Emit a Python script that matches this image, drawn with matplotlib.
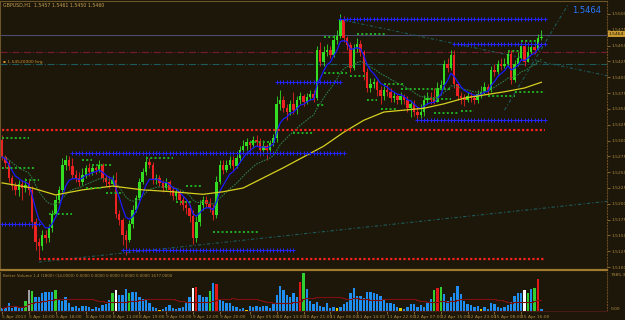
import numpy as np
import pandas as pd
import matplotlib
matplotlib.use("Agg")
import matplotlib.pyplot as plt

# ==========================================================
# Data (prices stored as pips above 1.5100)
# ==========================================================

BASE = 1.5100
PIP = 0.0001

open_first = 201

close_pips = [
    174, 164, 141, 128, 122, 131, 125, 130, 122, 71,
    40, 33, 51, 46, 62, 84, 106, 122, 161, 169,
    160, 146, 141, 134, 146, 157, 150, 157, 153, 161,
    141, 134, 131, 138, 84, 74, 51, 43, 68, 90,
    109, 134, 150, 166, 161, 138, 141, 133, 125, 134,
    122, 112, 119, 106, 98, 93, 81, 46, 71, 98,
    106, 100, 93, 82, 134, 161, 153, 161, 169, 160,
    172, 185, 191, 198, 193, 201, 198, 185, 191, 185,
    196, 204, 258, 264, 251, 245, 258, 248, 264, 270,
    261, 269, 273, 267, 343, 324, 340, 343, 335, 359,
    365, 390, 362, 351, 315, 346, 352, 340, 308, 283,
    289, 292, 280, 270, 280, 277, 267, 270, 264, 270,
    264, 251, 258, 245, 240, 245, 264, 267, 264, 261,
    283, 288, 321, 315, 335, 289, 270, 267, 264, 270,
    267, 264, 273, 277, 285, 280, 311, 308, 321, 318,
    321, 337, 296, 321, 330, 349, 324, 340, 348, 343,
    362, 364,
]

high_pips = [
    209, 177, 169, 146, 134, 138, 138, 141, 138, 128,
    78, 46, 59, 59, 68, 90, 114, 128, 172, 177,
    176, 172, 153, 150, 157, 161, 164, 163, 160, 169,
    164, 146, 144, 146, 150, 90, 78, 59, 74, 98,
    114, 141, 157, 176, 172, 166, 147, 146, 138, 141,
    138, 128, 125, 122, 112, 106, 100, 90, 81, 106,
    112, 112, 109, 100, 144, 169, 169, 169, 176, 176,
    182, 191, 201, 204, 201, 207, 209, 204, 201, 194,
    201, 210, 270, 280, 270, 258, 264, 277, 270, 277,
    273, 275, 280, 280, 349, 356, 349, 352, 349, 367,
    375, 400, 397, 365, 356, 352, 362, 359, 343, 315,
    299, 299, 296, 286, 286, 289, 283, 277, 273, 277,
    273, 270, 264, 264, 255, 258, 272, 277, 277, 283,
    292, 296, 327, 330, 343, 343, 292, 277, 273, 277,
    277, 273, 280, 286, 292, 289, 318, 321, 327, 330,
    330, 343, 343, 327, 340, 356, 359, 349, 356, 352,
    368, 375,
]

low_pips = [
    169, 157, 134, 122, 114, 112, 106, 119, 114, 62,
    27, 14, 27, 38, 40, 55, 81, 101, 119, 153,
    153, 141, 134, 128, 130, 141, 144, 146, 147, 150,
    134, 128, 125, 128, 78, 66, 35, 19, 40, 62,
    87, 106, 131, 146, 157, 131, 131, 128, 119, 122,
    114, 106, 106, 98, 90, 84, 71, 37, 40, 65,
    90, 93, 87, 74, 78, 131, 147, 150, 157, 153,
    157, 166, 179, 185, 185, 188, 191, 176, 177, 169,
    182, 191, 198, 248, 245, 232, 240, 242, 242, 258,
    255, 258, 264, 261, 264, 318, 318, 334, 330, 332,
    352, 362, 356, 343, 308, 311, 340, 334, 296, 277,
    277, 283, 270, 258, 264, 270, 261, 261, 258, 258,
    258, 245, 237, 239, 232, 236, 239, 258, 258, 258,
    261, 280, 283, 308, 311, 283, 264, 258, 255, 261,
    261, 258, 259, 267, 273, 273, 277, 302, 305, 311,
    315, 318, 289, 292, 318, 327, 318, 324, 337, 337,
    343, 359,
]

volume = [
    700, 900, 1700, 600, 800, 700, 900, 2100, 4300, 4000,
    2800, 2900, 3600, 3800, 3850, 3850, 4200, 2250, 2100, 2800,
    1550, 850, 1000, 700, 1100, 1000, 850, 500, 850, 700,
    1200, 1400, 2250, 3650, 4200, 3300, 3300, 4550, 3650, 3900,
    3900, 2800, 2400, 2400, 1700, 850, 700, 300, 500, 850,
    1200, 700, 500, 700, 850, 1550, 2950, 4700, 5000, 3300,
    2950, 2950, 4100, 5700, 5600, 2250, 2000, 1550, 1700, 1000,
    850, 500, 700, 300, 1000, 850, 1000, 850, 1100, 1000,
    600, 1400, 3300, 5200, 4200, 3300, 2950, 3650, 2950, 5950,
    7700, 4480, 2100, 1400, 1890, 980, 840, 1680, 700, 840,
    700, 840, 1400, 1890, 3640, 4690, 3080, 3080, 2590, 3850,
    3850, 3640, 3500, 3080, 2240, 1680, 1540, 1400, 840, 700,
    490, 840, 1400, 1400, 840, 1190, 840, 1680, 2380, 4200,
    4690, 4900, 3500, 2100, 2940, 3780, 5180, 3500, 2100, 1400,
    1190, 840, 980, 490, 840, 490, 1680, 1400, 840, 700,
    840, 1190, 1890, 3080, 3640, 3780, 4200, 3640, 4480, 4690,
    6580, 490,
]

vol_green = [7, 9, 16, 33, 38, 62, 90, 129, 131, 157, 159]
vol_red = [58, 64, 89, 130, 160]
vol_white = [34, 57, 156]
vol_gray = [8]
vol_yellow = [47, 73, 100, 119, 143]

# slow moving average (bar index, pips)
slow_ma_bars = [0, 9, 16, 24, 33, 42, 51, 60, 66, 72, 78, 84, 90, 96, 102,
                108, 114, 120, 126, 132, 138, 144, 150, 156, 161]
slow_ma_pips = [133, 125, 114, 122, 128, 122, 119, 115, 119, 125, 141, 157, 174, 191, 213,
                232, 245, 248, 251, 258, 267, 272, 277, 283, 292]

# support / resistance levels: start bar, end bar, pips
blue_start = [101, 135, 82, 124, 21, 0, 36]
blue_end = [162, 162, 101, 162, 102, 11, 87]
blue_level = [392, 352, 292, 232, 180, 68, 27]

green_start = [0, 0, 7, 14, 24, 27, 25, 31, 43, 55, 52, 63, 74, 87, 94,
               96, 106, 96, 104, 109, 114, 113, 119, 126, 129, 137, 145, 151, 153, 155]
green_end = [8, 10, 11, 21, 27, 33, 30, 36, 51, 60, 57, 77, 80, 93, 96,
             100, 115, 103, 109, 112, 120, 118, 134, 134, 136, 141, 153, 155, 162, 160]
green_level = [204, 157, 138, 84, 169, 161, 125, 117, 172, 128, 103, 55, 198, 212, 256,
               364, 368, 307, 302, 264, 289, 250, 281, 266, 243, 247, 270, 341, 277, 357]

red_start = [0, 11]
red_end = [162, 162]
red_level = [217, 13]

# full width horizontal lines
hline_level = [367, 340, 321]

# trend lines: (bar, pips) -> (bar, pips)
trend_x0 = [102, 11, 150]
trend_y0 = [390, 8, 248]
trend_x1 = [181, 181, 169]
trend_y1 = [302, 104, 415]

tick_bars = [0, 8, 16, 25, 33, 41, 49, 57, 65, 74, 82, 90, 98, 106, 115, 123, 131, 139, 147, 155]
tick_texts = ["5 Apr 2013", "5 Apr 10:00", "5 Apr 18:00", "8 Apr 03:00", "8 Apr 11:00",
              "8 Apr 19:00", "9 Apr 04:00", "9 Apr 12:00", "9 Apr 20:00", "10 Apr 05:00",
              "10 Apr 13:00", "10 Apr 21:00", "11 Apr 06:00", "11 Apr 14:00", "11 Apr 22:00",
              "12 Apr 07:00", "12 Apr 15:00", "12 Apr 23:00", "15 Apr 08:00", "15 Apr 16:00"]

# ==========================================================
# Colours
# ==========================================================

BG = "#1c1709"
TAN = "#b08a40"
BULL = "#33dd22"
BEAR = "#ee2222"

def px(p):
    return BASE + np.asarray(p, dtype=float) * PIP

close = px(close_pips)
open_ = np.r_[px(open_first), close[:-1]]
high = np.maximum(px(high_pips), np.maximum(open_, close))
low = np.minimum(px(low_pips), np.minimum(open_, close))
x = np.arange(len(close))

# ==========================================================
# Figure
# ==========================================================

fig = plt.figure(figsize=(6.25, 3.2), dpi=100, facecolor=BG)
ax = fig.add_axes([0, 50 / 320, 607 / 625, 269 / 320], facecolor=BG)
axv = fig.add_axes([0, 9 / 320, 607 / 625, 39 / 320], facecolor=BG)

for a in (ax, axv):
    a.set_xlim(-0.6, 180.6)
    a.spines["left"].set_color("#6a5428")
    a.spines["top"].set_color("#6a5428")
    a.spines["right"].set_color("#6a4a20")
    a.spines["right"].set_linestyle(":")
    a.spines["right"].set_linewidth(0.8)

ax.spines["bottom"].set_color("#a07a30")
ax.spines["bottom"].set_linewidth(1.6)
axv.spines["top"].set_visible(False)
axv.spines["bottom"].set_color("#4a1a14")

ax.set_ylim(px(-4.6), px(420.4))

# full width lines
hl_styles = [("#4c4c70", "-"), ("#7a1830", "-."), ("#1d5a5c", "-.")]
for lev, (col, ls) in zip(hline_level, hl_styles):
    ax.axhline(px(lev), color=col, linestyle=ls, linewidth=0.8, zorder=1)

# trend lines
for a0, b0, a1, b1 in zip(trend_x0, trend_y0, trend_x1, trend_y1):
    ax.plot([a0, a1], [px(b0), px(b1)], color="#1d5a5c", linestyle=(0, (3, 2, 1, 2)),
            linewidth=0.8, zorder=1)

# candles
colors = np.where(close >= open_, BULL, BEAR)
ax.vlines(x, low, high, colors=colors, linewidth=0.6, zorder=2)
body_lo = np.minimum(open_, close)
body_h = np.maximum(np.abs(close - open_), 0.00005)
ax.bar(x, body_h, bottom=body_lo, width=0.72, color=colors, linewidth=0, zorder=2)

# moving averages
fast = pd.Series(close).ewm(span=6, adjust=False).mean()
mid = pd.Series(close).ewm(span=18, adjust=False).mean()
ax.plot(x, mid, color="#2e7a45", linestyle=(0, (1.5, 1)), linewidth=0.8, zorder=3)
ax.plot(x, fast, color="#1a1aff", linewidth=0.9, zorder=3)
ax.plot(slow_ma_bars, px(slow_ma_pips), color="#d8d020", linewidth=0.9, zorder=3)

# levels
for s, e, lev in zip(red_start, red_end, red_level):
    ax.plot([s, e], [px(lev), px(lev)], color="#ff2020", linestyle=(0, (1, 1)),
            linewidth=1.6, zorder=4)
for s, e, lev in zip(green_start, green_end, green_level):
    ax.plot([s, e], [px(lev), px(lev)], color="#22b022", linestyle=(0, (1, 1.2)),
            linewidth=1.4, zorder=4)
for s, e, lev in zip(blue_start, blue_end, blue_level):
    bx = np.arange(s, e + 1)
    ax.plot(bx, np.full(len(bx), px(lev)), color="#2424ff", linestyle="none",
            marker="+", markersize=2.4, markeredgewidth=0.7, zorder=4)

# axis labels
ax.set_xticks([])
ax.yaxis.tick_right()
yt = px(np.arange(0, 401, 25))
ax.set_yticks(yt)
ax.set_yticklabels([f"{v:.4f}" for v in yt])
ax.tick_params(axis="y", colors=TAN, labelsize=3.2, length=2, width=0.5, pad=1)

# ==========================================================
# Volume panel
# ==========================================================

vcol = np.array(["#1e8ff0"] * len(volume), dtype=object)
vcol[vol_green] = "#30d030"
vcol[vol_red] = "#e01818"
vcol[vol_white] = "#ffffff"
vcol[vol_gray] = "#a0a0a0"
vcol[vol_yellow] = "#d8d000"
axv.bar(x, volume, width=0.7, color=list(vcol), linewidth=0)
vma = pd.Series(volume).rolling(20, min_periods=1).mean()
axv.plot(x, vma, color="#7a1010", linewidth=0.8, drawstyle="steps-mid")
axv.set_ylim(0, 7985.3)
axv.set_yticks([])
axv.set_xticks(tick_bars)
axv.set_xticklabels(tick_texts, ha="left")
axv.tick_params(axis="x", colors=TAN, labelsize=3.2, length=2, width=0.5, pad=1)

# ==========================================================
# Texts
# ==========================================================

fig.text(3 / 625, 1 - 5 / 320, "GBPUSD,H1  1.5457 1.5461 1.5450 1.5460",
         fontsize=3.4, color="#c8a050", va="center")
fig.text(3 / 625, 1 - 62 / 320, "\u25aa 1.54520000 ltrg", fontsize=3.2,
         color="#d09030", va="center")
fig.text(3 / 625, 1 - 276 / 320,
         "Better Volume 1.4 (1800) (14,0000) 0.0000 0.0000 0.0000 0.0000 0.0000 1677.0000",
         fontsize=2.9, color="#b08a40", va="center")
ax.text(174.6, px(405), "1.5464", fontsize=6, color="#2878ff", ha="center", va="center")

fig.text(609 / 625, 1 - 34 / 320, "1.5464", fontsize=3.2, color="#1c1709", va="center",
         bbox=dict(boxstyle="square,pad=0.2", fc="#c89a30", ec="none"))
fig.text(611 / 625, 1 - 275 / 320, "7985.3", fontsize=3.2, color=TAN, va="center")
fig.text(611 / 625, 1 - 309 / 320, "0.00", fontsize=3.2, color=TAN, va="center")

fig.savefig("out.png", dpi=100, facecolor=BG)
plt.close(fig)
